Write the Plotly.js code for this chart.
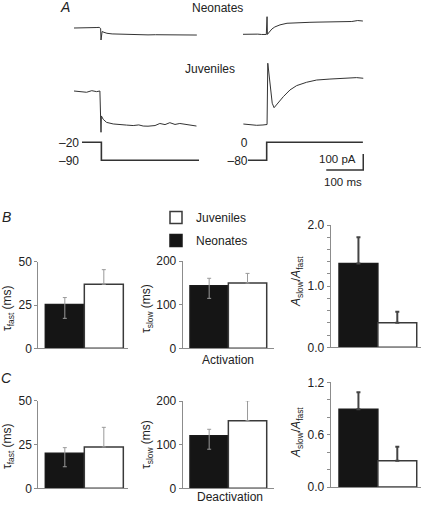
<!DOCTYPE html>
<html><head><meta charset="utf-8">
<script src="https://cdn.plot.ly/plotly-3.0.1.min.js"></script>
<style>html,body{margin:0;padding:0;background:#fff}#chart{width:424px;height:505px}</style>
</head><body><div id="chart"></div>
<script>
// ================= DATA =================
const groups = ['Neonates', 'Juveniles'];

// Panel B – Activation
const actTauFast = [25.3, 37.0];
const actTauFastUp = [4.0, 8.4];
const actTauFastDown = [8.0, 0];
const actTauSlow = [143.4, 149.6];
const actTauSlowUp = [17.0, 22.0];
const actTauSlowDown = [29.0, 0];
const actRatio = [1.37, 0.40];
const actRatioUp = [0.43, 0.18];

// Panel C – Deactivation
const deaTauFast = [20.0, 23.6];
const deaTauFastUp = [3.2, 11.2];
const deaTauFastDown = [7.7, 0];
const deaTauSlow = [120.5, 154.9];
const deaTauSlowUp = [14.7, 45.5];
const deaTauSlowDown = [31.0, 0];
const deaRatio = [0.89, 0.30];
const deaRatioUp = [0.195, 0.16];

// Tick labels
const tauFastTicks = [0, 25, 50];
const tauSlowTicks = [0, 100, 200];
const ratioTicksB = [0, 1, 2];
const ratioTextB = ['0.0', '1.0', '2.0'];
const ratioTicksC = [0, 0.6, 1.2];
const ratioTextC = ['0.0', '0.6', '1.2'];

// Panel A – current traces (time in ms, current in pA relative to holding)
const neoLeftT = [0, 16, 32, 49, 62, 68, 72, 73, 74.3, 76, 81, 89, 103, 124, 140, 160, 180, 200, 220, 240, 260, 280, 300, 320, 332];
const neoLeftI = [0, 0, 1, -1, 3, 4, -3, -75, -50, -22, -27, -33, -37, -39, -40, -42, -41, -43, -42, -43, -42, -44, -42, -43, -44];

const neoRightT = [0, 10, 19, 30, 40, 50, 57, 63, 65, 66, 69, 73, 78, 86, 100, 119, 146, 181, 200, 221, 240, 262, 280, 294, 310, 324];
const neoRightI = [0, 1, -1, 1, 1, -1, -2, -1, 110, -1, 8, 21, 33, 46, 59, 69, 73, 75, 76, 77, 77, 78, 79, 80, 86, 83];

const juvLeftT = [0, 16, 34, 48, 61, 70, 73, 74, 79, 88, 106, 142, 160, 175, 187, 200, 219, 232, 246, 259, 273, 286, 304, 322, 331];
const juvLeftI = [0, -4, -8, 2, -4, 0, -258, -156, -177, -196, -206, -213, -216, -212, -219, -220, -216, -203, -210, -198, -209, -203, -209, -215, -219];

const juvRightT = [1, 19, 37, 54, 65, 67, 71, 75, 79, 84, 89, 95, 109, 127, 145, 172, 199, 235, 271, 307, 325];
const juvRightI = [3, -3, -5, -3, 0, 383, 309, 205, 133, 105, 119, 133, 174, 216, 243, 264, 278, 284, 289, 293, 289];

// Voltage protocols (ms, mV)
const vLeftT = [21.6, 74, 74, 338];
const vLeftV = [-20, -20, -90, -90];
const vRightT = [13.5, 64, 64, 324];
const vRightV = [-80, -80, 0, 0];
const vLeftTicks = [-20, -90];
const vLeftTickText = ['\u201320', '\u201390'];
const vRightTicks = [0, -80];
const vRightTickText = ['0', '\u201380'];

// Scale bar
const scaleMs = 100;
const scalePA = 100;

// ================= LAYOUT HELPERS =================
const W = 424, H = 505;
const FONT = 'Liberation Sans, Arial, Helvetica, sans-serif';
const pxX = x => x / W;
const pxY = y => 1 - y / H;
const dX = (a, b) => [pxX(a), pxX(b)];
const dY = (top, bot) => [pxY(bot), pxY(top)];
const PX_PER_MS = 0.37;
const PX_PER_PA = 0.16;

const hidden = {visible: false, fixedrange: true};
function timeAxis(a, b) {
  return Object.assign({}, hidden, {domain: dX(a, b), range: [0, (b - a) / PX_PER_MS]});
}
function currentAxis(top, bot, base, anchor) {
  return Object.assign({}, hidden, {domain: dY(top, bot), anchor: anchor,
    range: [-(bot - base) / PX_PER_PA, (base - top) / PX_PER_PA]});
}

const layout = {
  width: W, height: H,
  margin: {l: 0, r: 0, t: 0, b: 0},
  paper_bgcolor: '#fff', plot_bgcolor: 'rgba(0,0,0,0)',
  font: {family: FONT, size: 12, color: '#222'},
  showlegend: true,
  barmode: 'overlay', bargap: 0,
  legend: {x: pxX(156), y: pxY(203), xanchor: 'left', yanchor: 'top',
           font: {family: FONT, size: 12, color: '#222'}, bgcolor: 'rgba(0,0,0,0)',
           traceorder: 'grouped', tracegroupgap: 4},
  annotations: [], shapes: []
};

// Trace axes (panel A)
layout.xaxis = timeAxis(74, 199);
layout.yaxis = currentAxis(12, 45, 28, 'x');
layout.xaxis2 = timeAxis(243, 364);
layout.yaxis2 = currentAxis(8, 42, 34.3, 'x2');
layout.xaxis3 = timeAxis(74, 199);
layout.yaxis3 = currentAxis(78, 140, 91, 'x3');
layout.xaxis4 = timeAxis(243, 364);
layout.yaxis4 = currentAxis(55, 135, 124.5, 'x4');
layout.xaxis5 = timeAxis(74, 199);
layout.xaxis6 = timeAxis(243, 364);
layout.xaxis7 = timeAxis(243, 364);
layout.yaxis7 = currentAxis(145, 175, 170, 'x7');

function voltAxis(top, bot, vTop, vBot, tickvals, ticktext, posPx) {
  const mvPerPx = (vTop - vBot) / 18;
  return {domain: dY(top, bot), anchor: 'free', position: pxX(posPx),
    range: [vBot - (bot - 160.3) * mvPerPx, vTop + (142.3 - top) * mvPerPx],
    showline: false, showgrid: false, zeroline: false, ticks: '', tickvals: tickvals, ticktext: ticktext,
    tickfont: {family: FONT, size: 12, color: '#222'}, fixedrange: true};
}
layout.yaxis5 = voltAxis(132, 170, -20, -90, vLeftTicks, vLeftTickText, 79);
layout.yaxis6 = voltAxis(132, 170, 0, -80, vRightTicks, vRightTickText, 247.5);

// Bar chart axes
function barX(a, b) {
  return {domain: dX(a, b), showline: true, linecolor: '#8c8c8c', linewidth: 1, showgrid: false,
    zeroline: false, ticks: '', showticklabels: false, fixedrange: true,
    type: 'category', categoryorder: 'array', categoryarray: groups};
}
function barY(top, bot, maxV, tickvals, ticktext, anchor, minorStep) {
  const ax = {domain: dY(top, bot), anchor: anchor, range: [0, maxV], showline: true, linecolor: '#8c8c8c',
    linewidth: 1, showgrid: false, zeroline: false, ticks: 'outside', ticklen: 3, tickcolor: '#8c8c8c',
    tickvals: tickvals, ticktext: ticktext, tickfont: {family: FONT, size: 12, color: '#222'}, fixedrange: true};
  if (minorStep) ax.minor = {dtick: minorStep, tick0: 0, ticks: 'outside', ticklen: 3, tickcolor: '#8c8c8c', showgrid: false};
  return ax;
}

const subplots = [
  {i: 8, xa: 38.3, xb: 128, rl: -0.68, rr: 1.62, top: 261.7, bot: 348.3, max: 50, tv: tauFastTicks, tt: tauFastTicks.map(String)},
  {i: 9, xa: 182.7, xb: 274, rl: -0.69, rr: 1.69, top: 261, bot: 348.3, max: 200, tv: tauSlowTicks, tt: tauSlowTicks.map(String)},
  {i: 10, xa: 330.7, xb: 421, rl: -0.714, rr: 1.61, top: 225, bot: 347.3, max: 2, tv: ratioTicksB, tt: ratioTextB, minor: 0.2},
  {i: 11, xa: 38.3, xb: 128, rl: -0.68, rr: 1.62, top: 400.7, bot: 488.3, max: 50, tv: tauFastTicks, tt: tauFastTicks.map(String)},
  {i: 12, xa: 182.7, xb: 274, rl: -0.69, rr: 1.69, top: 401, bot: 488.3, max: 200, tv: tauSlowTicks, tt: tauSlowTicks.map(String)},
  {i: 13, xa: 330.7, xb: 421, rl: -0.714, rr: 1.61, top: 382.3, bot: 487, max: 1.2, tv: ratioTicksC, tt: ratioTextC, minor: 0.2}
];
subplots.forEach(s => {
  const xa = barX(s.xa, s.xb);
  xa.range = [s.rl, s.rr];
  xa.anchor = 'y' + s.i;
  layout['xaxis' + s.i] = xa;
  layout['yaxis' + s.i] = barY(s.top, s.bot, s.max, s.tv, s.tt, 'x' + s.i, s.minor);
});

// ================= TRACES =================
const traces = [];
const TR = {color: '#333', width: 1};
function line(x, y, ax, style) {
  traces.push({type: 'scatter', mode: 'lines', x: x, y: y, xaxis: 'x' + (ax === 1 ? '' : ax),
    yaxis: 'y' + (ax === 1 ? '' : ax), line: style, hoverinfo: 'skip', showlegend: false});
}
line(neoLeftT, neoLeftI, 1, TR);
line(neoRightT, neoRightI, 2, TR);
line(juvLeftT, juvLeftI, 3, TR);
line(juvRightT, juvRightI, 4, TR);
const VS = {color: '#333', width: 1.6};
line(vLeftT, vLeftV, 5, VS);
line(vRightT, vRightV, 6, VS);
// scale bar (100 ms x 100 pA) ending at right edge of traces
const tEnd = 325;
line([tEnd - scaleMs, tEnd, tEnd], [0, 0, scalePA], 7, {color: '#333', width: 1.5});

const BLACK = '#151515';
function bars(ax, vals, up, down, errColor, errThick, legend) {
  const fills = [BLACK, '#ffffff'];
  const lines = ['#1a1a1a', '#3a3a3a'];
  [0, 1].forEach(k => {
    traces.push({type: 'bar', x: [groups[k]], y: [vals[k]], width: 1,
      xaxis: 'x' + ax, yaxis: 'y' + ax, name: groups[k], legendgroup: groups[k],
      marker: {color: fills[k], line: {color: lines[k], width: 1.5}},
      error_y: {type: 'data', symmetric: false, array: [up[k]], arrayminus: [down ? down[k] : 0],
        color: errColor, thickness: errThick, width: 2},
      showlegend: legend, legendrank: k === 1 ? 1 : 2, hoverinfo: 'skip'});
  });
}
bars(8, actTauFast, actTauFastUp, actTauFastDown, '#9a9a9a', 1, true);
bars(9, actTauSlow, actTauSlowUp, actTauSlowDown, '#9a9a9a', 1, false);
bars(10, actRatio, actRatioUp, null, '#444', 2, false);
bars(11, deaTauFast, deaTauFastUp, deaTauFastDown, '#9a9a9a', 1, false);
bars(12, deaTauSlow, deaTauSlowUp, deaTauSlowDown, '#9a9a9a', 1, false);
bars(13, deaRatio, deaRatioUp, null, '#444', 2, false);

// ================= ANNOTATIONS =================
function ann(text, x, y, opts) {
  layout.annotations.push(Object.assign({text: text, x: pxX(x), y: pxY(y), xref: 'paper', yref: 'paper',
    showarrow: false, xanchor: 'center', yanchor: 'middle', font: {family: FONT, size: 12, color: '#222'}}, opts || {}));
}
ann('<i>A</i>', 65, 7, {font: {family: FONT, size: 14, color: '#222'}});
ann('<i>B</i>', 6, 217, {font: {family: FONT, size: 14, color: '#222'}});
ann('<i>C</i>', 6, 377.5, {font: {family: FONT, size: 14, color: '#222'}});
ann('Neonates', 217, 0, {yanchor: 'top', borderpad: 0});
ann('Juveniles', 210.3, 69);
ann('Activation', 227.5, 360);
ann('Deactivation', 230, 505, {yanchor: 'bottom', borderpad: 0});
ann('100 pA', 358, 159, {xanchor: 'right', font: {family: FONT, size: 11.5, color: '#222'}});
ann('100 ms', 343, 182, {font: {family: FONT, size: 11.5, color: '#222'}});
const tauF = '\u03c4<sub>fast</sub> (ms)';
const tauS = '\u03c4<sub>slow</sub> (ms)';
const ratioT = '<i>A</i><sub>slow</sub>/<i>A</i><sub>fast</sub>';
ann(tauF, 8, 308, {textangle: -90});
ann(tauS, 147, 309, {textangle: -90});
ann(ratioT, 297, 282, {textangle: -90});
ann(tauF, 8, 446, {textangle: -90});
ann(tauS, 147, 445, {textangle: -90});
ann(ratioT, 297, 433, {textangle: -90});

Plotly.newPlot('chart', traces, layout, {staticPlot: true, displayModeBar: false});
</script>
</body></html>
